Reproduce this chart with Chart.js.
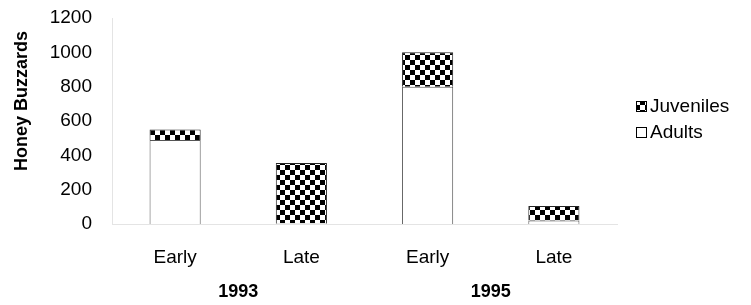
<!DOCTYPE html>
<html>
<head>
<meta charset="utf-8">
<script src="https://cdn.jsdelivr.net/npm/chart.js@4.4.0/dist/chart.umd.min.js"></script>
<style>
  html, body { margin: 0; padding: 0; background: #fff; }
  #wrap { width: 751px; height: 305px; }
</style>
</head>
<body>
<div id="wrap"><canvas id="barChart"></canvas></div>
<script>
    const categories = ['Early', 'Late', 'Early', 'Late'];
    const years = ['1993', '1995'];
    const adults = [490, 5, 800, 20];
    const juveniles = [60, 350, 200, 85];
    const yMin = 0, yMax = 1200, yStep = 200;

    // checkerboard fill like the old print pattern
    function checker() {
        const c = document.createElement('canvas');
        c.width = 10; c.height = 10;
        const g = c.getContext('2d');
        g.fillStyle = '#fff';
        g.fillRect(0, 0, 10, 10);
        g.fillStyle = '#000';
        g.fillRect(0, 0, 5, 5);
        g.fillRect(5, 5, 5, 5);
        return g.createPattern(c, 'repeat');
    }
    const juvFill = checker();

    const FONT = "'Liberation Sans', Arial, sans-serif";

    // legend drawn by hand so it sits where the original has it
    const sideLegend = {
        id: 'sideLegend',
        afterDraw(chart) {
            const ctx = chart.ctx;
            const items = chart.data.datasets.slice().reverse();
            ctx.save();
            ctx.font = '19px ' + FONT;
            ctx.textBaseline = 'middle';
            items.forEach((ds, i) => {
                const y = 106 + i * 26;
                ctx.fillStyle = ds.backgroundColor;
                ctx.fillRect(636, y - 5, 11, 11);
                ctx.strokeStyle = '#000';
                ctx.lineWidth = 1;
                ctx.strokeRect(636.5, y - 4.5, 10, 10);
                ctx.fillStyle = '#000';
                ctx.fillText(ds.label, 650, y + 1);
            });
            ctx.restore();
        }
    };

    new Chart(document.getElementById('barChart'), {
        type: 'bar',
        data: {
            labels: categories,
            datasets: [
                {
                    label: 'Adults',
                    data: adults,
                    backgroundColor: '#ffffff',
                    borderColor: '#555',
                    borderWidth: 1
                },
                {
                    label: 'Juveniles',
                    data: juveniles,
                    backgroundColor: juvFill,
                    borderColor: '#222',
                    borderWidth: 1
                }
            ]
        },
        options: {
            responsive: true,
            maintainAspectRatio: false,
            animation: false,
            categoryPercentage: 1,
            barPercentage: 0.405,
            layout: { padding: { left: 8, right: 134, top: 18, bottom: 0 } },
            plugins: {
                legend: { display: false },
                tooltip: { enabled: false }
            },
            scales: {
                x: {
                    stacked: true,
                    grid: { display: false, drawTicks: false },
                    border: { display: true, color: '#e4e4e4', dash: [1, 4] },
                    ticks: { color: '#000', padding: 22, font: { family: FONT, size: 19 } },
                    afterFit: s => { s.height = 45; }
                },
                x2: {
                    type: 'category',
                    labels: years,
                    position: 'bottom',
                    offset: true,
                    grid: { display: false, drawTicks: false },
                    border: { display: false },
                    ticks: { color: '#000', padding: 12, font: { family: FONT, size: 18, weight: 'bold' } },
                    afterFit: s => { s.height = 36; }
                },
                y: {
                    stacked: true,
                    min: yMin,
                    max: yMax,
                    grid: { display: false, drawTicks: false },
                    border: { display: true, color: '#e4e4e4', dash: [1, 4] },
                    ticks: {
                        stepSize: yStep,
                        autoSkip: false,
                        color: '#000',
                        padding: 20,
                        font: { family: FONT, size: 19 },
                        callback: v => String(v)
                    },
                    title: {
                        display: true,
                        text: '        Honey Buzzards',
                        color: '#000',
                        padding: { top: 3, bottom: 0 },
                        font: { family: FONT, size: 18, weight: 'bold' }
                    },
                    afterFit: s => {
                        s.width = 104;
                        s.paddingTop = 0;
                        s.paddingBottom = 0;
                    }
                }
            }
        },
        plugins: [sideLegend]
    });
</script>
</body>
</html>
